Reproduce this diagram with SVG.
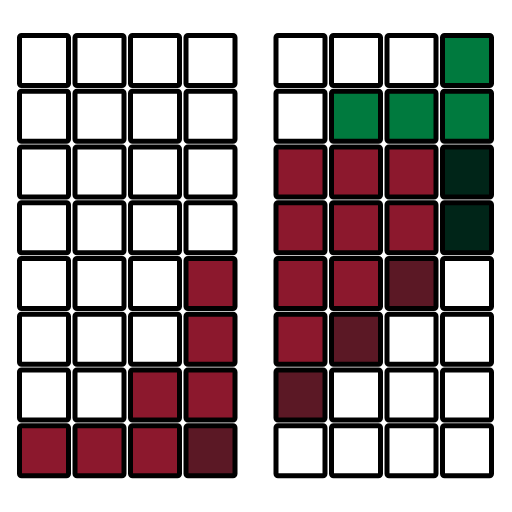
<svg xmlns="http://www.w3.org/2000/svg" width="512" height="512" viewBox="0 0 512 512">
<style>
.c{stroke:#000;stroke-width:5;fill:#fff}
.r{fill:#8C182D}
.m{fill:#5B1825}
.g{fill:#007A3E}
.d{fill:#002518}
</style>
<defs><rect id="cell" x="2.5" y="2.5" width="49" height="50" rx="2"/></defs>
<rect width="512" height="512" fill="#fff"/>
<g id="left">
<g transform="translate(17,33)">
<use href="#cell" class="c" x="0" y="0"/><use href="#cell" class="c" x="55.5" y="0"/><use href="#cell" class="c" x="111" y="0"/><use href="#cell" class="c" x="166.5" y="0"/>
<use href="#cell" class="c" x="0" y="55.75"/><use href="#cell" class="c" x="55.5" y="55.75"/><use href="#cell" class="c" x="111" y="55.75"/><use href="#cell" class="c" x="166.5" y="55.75"/>
<use href="#cell" class="c" x="0" y="111.5"/><use href="#cell" class="c" x="55.5" y="111.5"/><use href="#cell" class="c" x="111" y="111.5"/><use href="#cell" class="c" x="166.5" y="111.5"/>
<use href="#cell" class="c" x="0" y="167.25"/><use href="#cell" class="c" x="55.5" y="167.25"/><use href="#cell" class="c" x="111" y="167.25"/><use href="#cell" class="c" x="166.5" y="167.25"/>
<use href="#cell" class="c" x="0" y="223"/><use href="#cell" class="c" x="55.5" y="223"/><use href="#cell" class="c" x="111" y="223"/><use href="#cell" class="c r" x="166.5" y="223"/>
<use href="#cell" class="c" x="0" y="278.75"/><use href="#cell" class="c" x="55.5" y="278.75"/><use href="#cell" class="c" x="111" y="278.75"/><use href="#cell" class="c r" x="166.5" y="278.75"/>
<use href="#cell" class="c" x="0" y="334.5"/><use href="#cell" class="c" x="55.5" y="334.5"/><use href="#cell" class="c r" x="111" y="334.5"/><use href="#cell" class="c r" x="166.5" y="334.5"/>
<use href="#cell" class="c r" x="0" y="390.25"/><use href="#cell" class="c r" x="55.5" y="390.25"/><use href="#cell" class="c r" x="111" y="390.25"/><use href="#cell" class="c m" x="166.5" y="390.25"/>
</g>
</g>
<g id="right">
<g transform="translate(273.5,33)">
<use href="#cell" class="c" x="0" y="0"/><use href="#cell" class="c" x="55.5" y="0"/><use href="#cell" class="c" x="111" y="0"/><use href="#cell" class="c g" x="166.5" y="0"/>
<use href="#cell" class="c" x="0" y="55.75"/><use href="#cell" class="c g" x="55.5" y="55.75"/><use href="#cell" class="c g" x="111" y="55.75"/><use href="#cell" class="c g" x="166.5" y="55.75"/>
<use href="#cell" class="c r" x="0" y="111.5"/><use href="#cell" class="c r" x="55.5" y="111.5"/><use href="#cell" class="c r" x="111" y="111.5"/><use href="#cell" class="c d" x="166.5" y="111.5"/>
<use href="#cell" class="c r" x="0" y="167.25"/><use href="#cell" class="c r" x="55.5" y="167.25"/><use href="#cell" class="c r" x="111" y="167.25"/><use href="#cell" class="c d" x="166.5" y="167.25"/>
<use href="#cell" class="c r" x="0" y="223"/><use href="#cell" class="c r" x="55.5" y="223"/><use href="#cell" class="c m" x="111" y="223"/><use href="#cell" class="c" x="166.5" y="223"/>
<use href="#cell" class="c r" x="0" y="278.75"/><use href="#cell" class="c m" x="55.5" y="278.75"/><use href="#cell" class="c" x="111" y="278.75"/><use href="#cell" class="c" x="166.5" y="278.75"/>
<use href="#cell" class="c m" x="0" y="334.5"/><use href="#cell" class="c" x="55.5" y="334.5"/><use href="#cell" class="c" x="111" y="334.5"/><use href="#cell" class="c" x="166.5" y="334.5"/>
<use href="#cell" class="c" x="0" y="390.25"/><use href="#cell" class="c" x="55.5" y="390.25"/><use href="#cell" class="c" x="111" y="390.25"/><use href="#cell" class="c" x="166.5" y="390.25"/>
</g>
</g>
</svg>
